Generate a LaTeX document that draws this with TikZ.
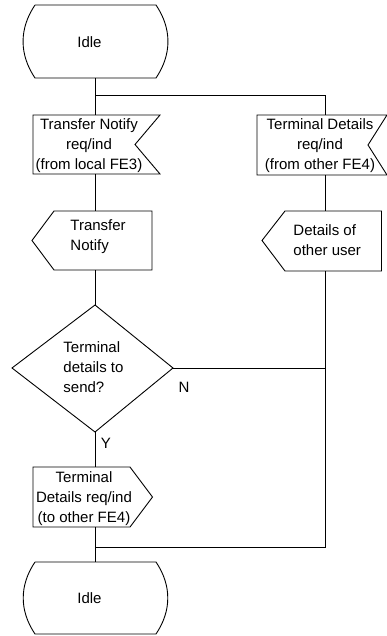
\documentclass[tikz,border=0pt]{standalone}
\usepackage{fontspec}
\setmainfont{Liberation Sans}
\begin{document}
\begin{tikzpicture}[x=1pt,y=-1pt,line width=0.9pt,
  txt/.style={inner sep=0pt,font=\fontsize{15}{20}\selectfont},
  outline/.style={draw=black,line join=miter},
  wire/.style={draw=black}]
\useasboundingbox (0,0) rectangle (386,636);

% ---- start state ----
\coordinate (s1tl) at (35,5);   \coordinate (s1tr) at (156,5);
\coordinate (s1bl) at (35,78);  \coordinate (s1br) at (156,78);
\draw[outline] (s1tl) -- (s1tr) to[out=-56,in=56] (s1br) -- (s1bl) to[out=124,in=-124] (s1tl);
\node[txt] (idle1) at (89.5,42.5) {Idle};
\coordinate (idle1out) at (95,78);

% ---- input: Transfer Notify ----
\draw[outline] (33,115) -- (160,115) -- (135,144.5) -- (160,174) -- (33,174) -- cycle;
\node[txt,align=center] (tnin) at (89,146) {Transfer Notify\\req/ind\\(from local FE3)};
\coordinate (tninin) at (95,115);
\coordinate (tninout) at (95,174);

% ---- input: Terminal Details ----
\draw[outline] (257,115) -- (387,115) -- (368,145) -- (387,175) -- (257,175) -- cycle;
\node[txt,align=center] (tdin) at (320,146) {Terminal Details\\req/ind\\(from other FE4)};
\coordinate (tdinin) at (325,115);
\coordinate (tdinout) at (325,175);

% ---- task: Transfer Notify ----
\draw[outline] (54,211) -- (152,211) -- (152,270) -- (54,270) -- (32,240.5) -- cycle;
\node[txt,align=left,anchor=west] (tnout) at (70,236.5) {Transfer\\Notify};
\coordinate (tnoutin) at (95,211);
\coordinate (tnoutout) at (95,270);

% ---- task: Details of other user ----
\draw[outline] (285,211) -- (381.5,211) -- (381.5,271) -- (285,271) -- (262,240.5) -- cycle;
\node[txt,align=left,anchor=west] (dou) at (293,240.5) {Details of\\other user};
\coordinate (douin) at (325,211);
\coordinate (douout) at (325,271);

% ---- decision ----
\coordinate (dtop) at (95,305);  \coordinate (dright) at (173,368);
\coordinate (dbot) at (95,432);  \coordinate (dleft) at (12,368);
\draw[outline] (dtop) -- (dright) -- (dbot) -- (dleft) -- cycle;
\node[txt,align=left,anchor=west] (dec) at (63,367) {Terminal\\details to\\send?};
\node[txt] (nlab) at (184,387) {N};
\node[txt] (ylab) at (106,443) {Y};

% ---- output: Terminal Details ----
\draw[outline] (33,467) -- (130,467) -- (152.5,497) -- (130,527) -- (33,527) -- cycle;
\node[txt,align=center] (tdout) at (84,499) {Terminal\\Details req/ind\\(to other FE4)};
\coordinate (tdoutin) at (95,467);
\coordinate (tdoutout) at (95,527);

% ---- end state ----
\coordinate (s2tl) at (35,562);  \coordinate (s2tr) at (156,562);
\coordinate (s2bl) at (35,634);  \coordinate (s2br) at (156,634);
\draw[outline] (s2tl) -- (s2tr) to[out=-56,in=56] (s2br) -- (s2bl) to[out=124,in=-124] (s2tl);
\node[txt] (idle2) at (89.5,598.5) {Idle};
\coordinate (idle2in) at (95,562);

% ---- junctions ----
\coordinate (split) at (95,95);
\coordinate (splitr) at (325,95);
\coordinate (njoin) at (325,368);
\coordinate (mergr) at (325,547);
\coordinate (merge) at (95,547);

% ---- connectors ----
\draw[wire] (idle1out) -- (tninin);
\draw[wire] (split) -- (splitr) -- (tdinin);
\draw[wire] (tninout) -- (tnoutin);
\draw[wire] (tdinout) -- (douin);
\draw[wire] (tnoutout) -- (dtop);
\draw[wire] (dright) -- (njoin);
\draw[wire] (douout) -- (mergr) -- (merge);
\draw[wire] (dbot) -- (tdoutin);
\draw[wire] (tdoutout) -- (idle2in);
\end{tikzpicture}
\end{document}
